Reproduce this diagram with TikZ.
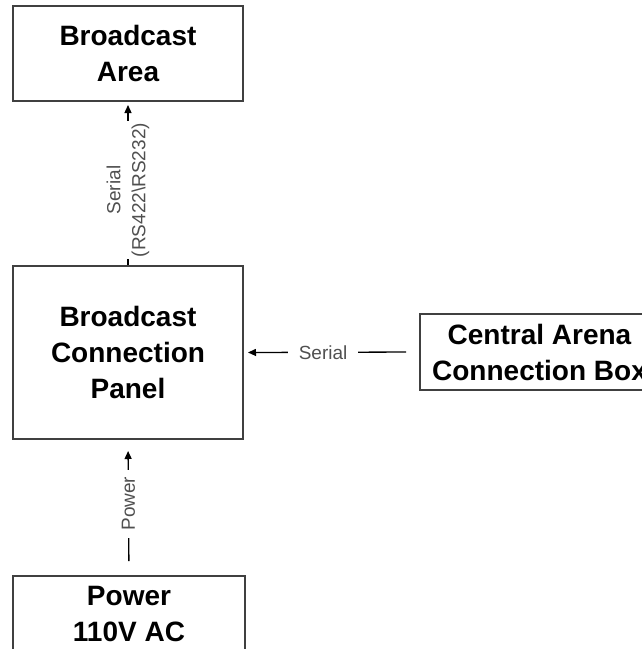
\documentclass[tikz,border=0pt]{standalone}
\usepackage{fontspec}
\setmainfont{Liberation Sans}
\usetikzlibrary{arrows.meta}
\definecolor{boxline}{HTML}{404040}
\definecolor{lbl}{HTML}{505050}
\tikzset{
  block/.style={draw=boxline, line width=2pt, fill=white, align=center,
    font=\fontsize{28pt}{36pt}\selectfont\bfseries, inner sep=0pt},
  conn/.style={draw=black, line width=1.3pt, -{Triangle[length=8pt,width=7pt]}},
  clabel/.style={fill=white, text=lbl, font=\fontsize{19pt}{25pt}\selectfont, align=center}
}
\begin{document}
\begin{tikzpicture}[x=1pt,y=-1pt]
\useasboundingbox (0,0) rectangle (641,649);
\node[block, minimum width=230pt, minimum height=95pt] (area) at (128,53.5) {Broadcast\\Area};
\node[block, minimum width=230pt, minimum height=173pt] (panel) at (128,352.5) {Broadcast\\Connection\\Panel};
\node[block, minimum width=239pt, minimum height=76pt] (central) at (539.5,352) {Central Arena\\Connection Box};
\node[block, minimum width=232pt, minimum height=122pt] (power) at (129,637) {Power\\110V AC\\\strut};
\draw[conn, shorten >=3pt] (panel.north) -- node[clabel, pos=0.46, rotate=90, inner xsep=2pt, inner ysep=1pt] (lab1) {Serial\\(RS422\textbackslash RS232)} (area.south);
\draw[conn, shorten <=13pt, shorten >=4pt] (central.west) -- node[clabel, pos=0.548, inner xsep=11pt, inner ysep=2pt] (lab2) {Serial} (panel.east);
\draw[conn, shorten <=14pt, shorten >=11pt] (power.north) -- node[clabel, pos=0.529, rotate=90, inner xsep=7pt, inner ysep=2pt] (lab3) {Power} (panel.south);
\end{tikzpicture}
\end{document}
